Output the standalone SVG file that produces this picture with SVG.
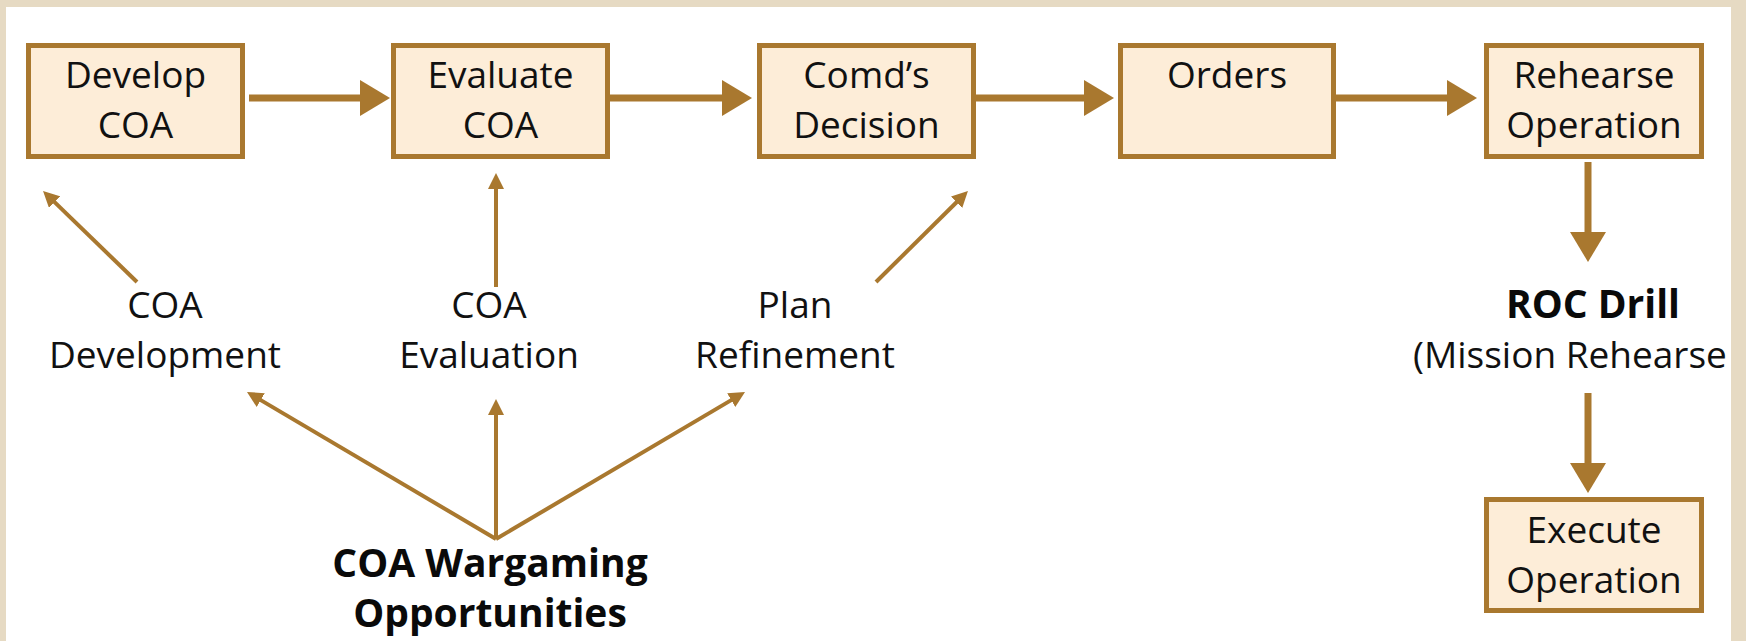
<svg xmlns="http://www.w3.org/2000/svg" width="1746" height="641" viewBox="0 0 1746 641">
<style>
.box{fill:#FDEDD8;stroke:#A9782F;stroke-width:5}
.t{font-family:"Open Sans","Noto Sans","Liberation Sans",sans-serif;font-size:37px;fill:#111;text-anchor:middle}
.b{font-family:"Open Sans","Noto Sans","Liberation Sans",sans-serif;font-size:39px;font-weight:bold;fill:#0a0a0a;text-anchor:middle}
.thick{stroke:#A9782F;stroke-width:7;fill:none;marker-end:url(#bigHead)}
.thin{stroke:#A9782F;stroke-width:4;fill:none;marker-end:url(#smallHead)}
</style>
<defs>
<marker id="bigHead" markerUnits="userSpaceOnUse" markerWidth="30" markerHeight="36" refX="1" refY="18" orient="auto"><path d="M0,0 L30,18 L0,36 z" fill="#A9782F"/></marker>
<marker id="smallHead" markerUnits="userSpaceOnUse" markerWidth="16" markerHeight="16" refX="1" refY="8" orient="auto"><path d="M0,0 L16,8 L0,16 z" fill="#A9782F"/></marker>
</defs>
<rect x="0" y="0" width="1746" height="641" fill="#E6DAC3"/>
<rect x="6" y="7" width="1725" height="634" fill="#FFFFFF"/>

<g id="connectors">
<line class="thick" x1="249" y1="98" x2="361" y2="98"/>
<line class="thick" x1="610" y1="98" x2="723" y2="98"/>
<line class="thick" x1="976" y1="98" x2="1085" y2="98"/>
<line class="thick" x1="1336" y1="98" x2="1448" y2="98"/>
<line class="thick" x1="1588" y1="162" x2="1588" y2="233"/>
<line class="thick" x1="1588" y1="393" x2="1588" y2="464"/>
<line class="thin" x1="137" y1="282" x2="53.8" y2="201.4"/>
<line class="thin" x1="496" y1="287" x2="496" y2="188"/>
<line class="thin" x1="876" y1="282" x2="957.3" y2="201.5"/>
<line class="thin" x1="496" y1="539" x2="259.9" y2="399.6"/>
<line class="thin" x1="496" y1="539" x2="496" y2="414"/>
<line class="thin" x1="496" y1="539" x2="732.1" y2="399.6"/>
</g>

<g id="develop-coa"><rect class="box" x="28.5" y="45.5" width="214" height="111"/><text class="t" x="135.5" y="88">Develop</text><text class="t" x="135.5" y="138">COA</text></g>
<g id="evaluate-coa"><rect class="box" x="393.5" y="45.5" width="214" height="111"/><text class="t" x="500.5" y="88">Evaluate</text><text class="t" x="500.5" y="138">COA</text></g>
<g id="comds-decision"><rect class="box" x="759.5" y="45.5" width="214" height="111"/><text class="t" x="866.5" y="88">Comd’s</text><text class="t" x="866.5" y="138">Decision</text></g>
<g id="orders"><rect class="box" x="1120.5" y="45.5" width="213" height="111"/><text class="t" x="1227" y="88">Orders</text></g>
<g id="rehearse-operation"><rect class="box" x="1486.5" y="45.5" width="215" height="111"/><text class="t" x="1594" y="88">Rehearse</text><text class="t" x="1594" y="138">Operation</text></g>
<g id="execute-operation"><rect class="box" x="1486.5" y="499.5" width="215" height="111"/><text class="t" x="1594" y="543">Execute</text><text class="t" x="1594" y="593">Operation</text></g>

<g id="coa-development"><text class="t" x="165" y="318">COA</text><text class="t" x="165" y="368">Development</text></g>
<g id="coa-evaluation"><text class="t" x="489" y="318">COA</text><text class="t" x="489" y="368">Evaluation</text></g>
<g id="plan-refinement"><text class="t" x="795" y="318">Plan</text><text class="t" x="795" y="368">Refinement</text></g>
<g id="coa-wargaming"><text class="b" x="490" y="577">COA Wargaming</text><text class="b" x="490" y="627">Opportunities</text></g>
<g id="roc-drill"><text class="b" x="1593" y="318">ROC Drill</text><text class="t" x="1413" y="368" style="text-anchor:start">(Mission Rehearse</text></g>
</svg>
